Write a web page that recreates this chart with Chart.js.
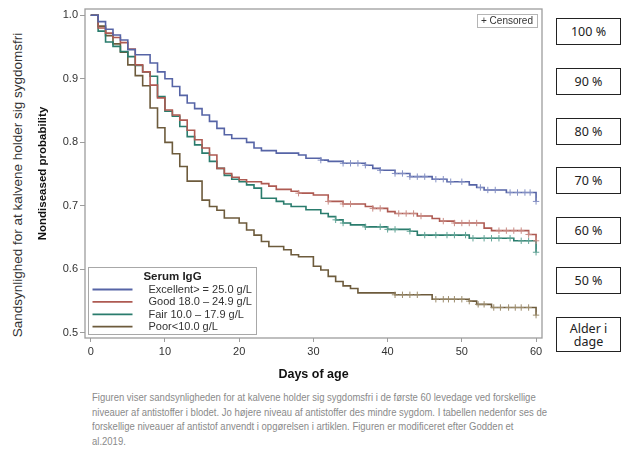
<!DOCTYPE html>
<html lang="da">
<head>
<meta charset="utf-8">
<script src="https://cdn.jsdelivr.net/npm/chart.js@4.4.1/dist/chart.umd.min.js"></script>
<style>
  html, body { margin: 0; padding: 0; background: #fff; }
  body { width: 643px; height: 460px; position: relative; overflow: hidden; font-family: 'Liberation Sans', Arial, sans-serif; }
  #wrap { position: absolute; left: 30px; top: 0; width: 520px; height: 390px; }
  #outer-title { position: absolute; left: 17px; top: 185px; transform: translate(-50%, -50%) rotate(-90deg);
    white-space: nowrap; font-size: 13.5px; color: #333; }
  .box { position: absolute; left: 556px; width: 65px; height: 27px; border: 1.3px solid #222; box-sizing: border-box;
    display: flex; align-items: center; justify-content: center; text-align: center;
    font-family: 'Noto Sans', sans-serif; font-size: 12.5px; line-height: 13px; color: #222; }
  #caption { position: absolute; left: 92px; top: 390px; font-family: 'Liberation Sans', sans-serif;
    font-size: 10.5px; line-height: 14.5px; color: #8a8a8a; white-space: nowrap;
    transform: scaleX(0.905); transform-origin: 0 0; }
</style>
</head>
<body>
<div id="outer-title">Sandsynlighed for at kalvene holder sig sygdomsfri</div>
<div id="wrap"><canvas id="km-chart"></canvas></div>
<div id="boxes"></div>
<div id="caption">Figuren viser sandsynligheden for at kalvene holder sig sygdomsfri i de første 60 levedage ved forskellige<br>niveauer af antistoffer i blodet. Jo højere niveau af antistoffer des mindre sygdom. I tabellen nedenfor ses de<br>forskellige niveauer af antistof anvendt i opgørelsen i artiklen. Figuren er modificeret efter Godden et<br>al.2019.</div>
<script>
// legend labels (Serum IgG groups)
const groupLabels = ['Excellent> = 25.0 g/L', 'Good 18.0 \u2013 24.9 g/L', 'Fair 10.0 \u2013 17.9 g/L', 'Poor<10.0 g/L'];

// Kaplan-Meier steps: event day -> survival after that day
const excellentDays = [0, 1, 2, 3, 4, 5, 6, 8, 9, 10, 11, 12, 13, 14, 15, 16, 17, 18, 19, 21, 22, 23, 25, 28, 29, 31, 32, 34, 37, 38, 39, 41, 43, 46, 48, 51, 52, 53, 56, 60];
const excellentSurv = [1.000, 0.990, 0.978, 0.969, 0.961, 0.946, 0.938, 0.925, 0.911, 0.900, 0.888, 0.874, 0.862, 0.853, 0.843, 0.833, 0.822, 0.812, 0.806, 0.800, 0.791, 0.787, 0.783, 0.780, 0.775, 0.772, 0.770, 0.767, 0.764, 0.759, 0.756, 0.751, 0.746, 0.742, 0.738, 0.733, 0.729, 0.725, 0.721, 0.707];

const goodDays = [0, 1, 2, 3, 4, 5, 6, 7, 8, 9, 10, 11, 12, 13, 14, 15, 16, 17, 18, 19, 20, 21, 23, 24, 25, 27, 28, 30, 32, 34, 37, 38, 40, 41, 44, 46, 47, 49, 53, 54, 59, 60];
const goodSurv = [1.000, 0.980, 0.972, 0.965, 0.957, 0.947, 0.922, 0.911, 0.890, 0.870, 0.851, 0.843, 0.835, 0.819, 0.804, 0.791, 0.780, 0.759, 0.751, 0.745, 0.741, 0.738, 0.735, 0.731, 0.726, 0.723, 0.720, 0.717, 0.707, 0.703, 0.699, 0.696, 0.691, 0.688, 0.684, 0.680, 0.676, 0.673, 0.665, 0.661, 0.655, 0.645];

const fairDays = [0, 1, 2, 3, 4, 5, 6, 7, 8, 9, 10, 11, 12, 13, 14, 15, 16, 17, 18, 19, 20, 21, 22, 23, 25, 26, 27, 29, 31, 32, 33, 34, 35, 37, 40, 43, 44, 51, 57, 60];
const fairSurv = [1.000, 0.975, 0.958, 0.951, 0.943, 0.935, 0.921, 0.911, 0.904, 0.872, 0.849, 0.841, 0.825, 0.809, 0.796, 0.783, 0.770, 0.759, 0.748, 0.742, 0.738, 0.733, 0.728, 0.712, 0.707, 0.703, 0.699, 0.694, 0.688, 0.683, 0.678, 0.673, 0.670, 0.667, 0.663, 0.660, 0.654, 0.649, 0.645, 0.627];

const poorDays = [0, 1, 2, 3, 4, 5, 6, 7, 8, 9, 10, 11, 12, 13, 15, 16, 17, 18, 20, 21, 22, 23, 24, 26, 27, 28, 30, 31, 32, 33, 34, 35, 36, 41, 46, 51, 52, 54, 60];
const poorSurv = [1.000, 0.983, 0.968, 0.955, 0.942, 0.922, 0.905, 0.889, 0.854, 0.823, 0.800, 0.782, 0.762, 0.739, 0.709, 0.699, 0.693, 0.681, 0.673, 0.662, 0.654, 0.644, 0.636, 0.631, 0.623, 0.620, 0.605, 0.599, 0.589, 0.581, 0.574, 0.570, 0.563, 0.560, 0.553, 0.550, 0.545, 0.540, 0.528];

// censored observations (days)
const excellentCensor = [31, 34, 35, 36, 37, 39, 41, 42, 43, 44, 45, 46.5, 47.5, 48.5, 50, 52.5, 53.5, 54.5, 56.5, 57.5, 58.5, 59.2, 60];
const goodCensor = [28, 32, 34, 35, 38, 39, 41.5, 42.5, 43.5, 44.5, 47.5, 49, 50, 51, 52, 55, 56, 57, 58, 59, 60];
const fairCensor = [33, 34, 37, 39, 40, 41, 43, 45, 46.5, 48, 49, 50.5, 51.5, 53, 54, 55, 56.5, 58, 59, 60];
const poorCensor = [41, 42, 43, 44, 46.5, 47.5, 48.2, 49, 50, 51, 52.2, 53, 54.3, 55.2, 56.3, 57.2, 58, 59, 60];

const xTicks = [0, 10, 20, 30, 40, 50, 60];
const yTicks = [0.5, 0.6, 0.7, 0.8, 0.9, 1.0];
const boxLabels = ['100 %', '90 %', '80 %', '70 %', '60 %', '50 %'];
const lastBoxLabel = 'Alder i<br>dage';

const lineColors = ['#5664a6', '#ae5a52', '#2a7c6d', '#6d5b3c'];
const censorColors = ['#8591c4', '#c98c85', '#62a597', '#9c8c6c'];

// side boxes
const boxesEl = document.getElementById('boxes');
boxLabels.forEach(function (lab, i) {
    let d = document.createElement('div');
    d.className = 'box';
    d.style.top = (18 + i * 49.8) + 'px';
    d.textContent = lab;
    boxesEl.appendChild(d);
});
let lastBox = document.createElement('div');
lastBox.className = 'box';
lastBox.style.top = '317px';
lastBox.style.height = '35px';
lastBox.innerHTML = lastBoxLabel;
boxesEl.appendChild(lastBox);

function toPoints(days, surv) {
    return days.map(function (d, i) { return { x: d, y: surv[i] }; });
}

// survival value in effect at day d
function survAt(days, surv, d) {
    let v = surv[0];
    for (let i = 0; i < days.length; i++) {
        if (days[i] <= d) v = surv[i];
    }
    return v;
}

const series = [
    [excellentDays, excellentSurv, excellentCensor],
    [goodDays, goodSurv, goodCensor],
    [fairDays, fairSurv, fairCensor],
    [poorDays, poorSurv, poorCensor]
];

let datasets = [];
series.forEach(function (s, i) {
    datasets.push({
        type: 'line',
        label: groupLabels[i],
        data: toPoints(s[0], s[1]),
        stepped: true,
        borderColor: lineColors[i],
        borderWidth: 1.6,
        pointRadius: 0,
        fill: false,
        order: 2
    });
});
series.forEach(function (s, i) {
    datasets.push({
        type: 'scatter',
        label: 'Censored',
        censor: true,
        data: s[2].map(function (d) { return { x: d, y: survAt(s[0], s[1], d) }; }),
        pointStyle: 'cross',
        pointRadius: 3.2,
        borderWidth: 1,
        borderColor: censorColors[i],
        backgroundColor: censorColors[i],
        order: 1
    });
});

const framePlugin = {
    id: 'frame',
    afterDraw(chart) {
        const ctx = chart.ctx;
        const a = chart.chartArea;
        ctx.save();
        ctx.strokeStyle = '#9d9d9d';
        ctx.lineWidth = 1.3;
        ctx.strokeRect(a.left, a.top, a.right - a.left, a.bottom - a.top);

        // "+ Censored" key
        ctx.strokeStyle = '#b5b5b5';
        ctx.lineWidth = 1;
        ctx.strokeRect(a.right - 64.5, a.top + 5.5, 60, 13);
        ctx.fillStyle = '#333';
        ctx.font = '10px "Liberation Sans", Arial, sans-serif';
        ctx.textBaseline = 'middle';
        ctx.fillText('+ Censored', a.right - 61, a.top + 12.5);

        // Serum IgG legend
        const bx = a.left + 3.5, by = a.bottom - 70.5, bw = 168, bh = 67;
        ctx.fillStyle = '#fff';
        ctx.fillRect(bx, by, bw, bh);
        ctx.strokeStyle = '#a8a8a8';
        ctx.strokeRect(bx, by, bw, bh);
        ctx.fillStyle = '#222';
        ctx.font = 'bold 11.5px "Liberation Sans", Arial, sans-serif';
        ctx.textAlign = 'center';
        ctx.fillText('Serum IgG', bx + 84, by + 9.5);
        ctx.textAlign = 'left';
        ctx.font = '11px "Liberation Sans", Arial, sans-serif';
        chart.data.datasets.filter(function (ds) { return !ds.censor; }).forEach(function (ds, i) {
            const yy = by + 22 + i * 12.4;
            ctx.strokeStyle = ds.borderColor;
            ctx.lineWidth = 1.8;
            ctx.beginPath();
            ctx.moveTo(bx + 4, yy);
            ctx.lineTo(bx + 44, yy);
            ctx.stroke();
            ctx.fillStyle = '#333';
            ctx.fillText(ds.label, bx + 60, yy + 0.5);
        });
        ctx.restore();
    }
};

const ctx = document.getElementById('km-chart');
const kmChart = new Chart(ctx, {
    data: { datasets: datasets },
    options: {
        responsive: true,
        maintainAspectRatio: false,
        animation: false,
        layout: { padding: { top: 9, right: 8, left: 0, bottom: 0 } },
        plugins: { legend: { display: false }, tooltip: { enabled: false } },
        scales: {
            x: {
                type: 'linear',
                min: -0.77,
                max: 60.8,
                afterFit: function (s) { s.height = 52; },
                afterBuildTicks: function (s) { s.ticks = xTicks.map(function (v) { return { value: v }; }); },
                grid: { drawOnChartArea: false, tickLength: 4, color: '#9d9d9d' },
                border: { display: false },
                ticks: { padding: 3, color: '#333', font: { family: 'Liberation Sans', size: 11 } },
                title: { display: true, text: 'Days of age', color: '#111',
                    font: { family: 'Liberation Sans', size: 12.5, weight: 'bold' }, padding: { top: 0, bottom: 7.5 } }
            },
            y: {
                type: 'linear',
                min: 0.492,
                max: 1.0099,
                afterFit: function (s) { s.width = 55; },
                afterBuildTicks: function (s) { s.ticks = yTicks.map(function (v) { return { value: v }; }); },
                grid: { drawOnChartArea: false, tickLength: 5, color: '#9d9d9d' },
                border: { display: false },
                ticks: { padding: 2, color: '#333', font: { family: 'Liberation Sans', size: 11 },
                    callback: function (v) { return Number(v).toFixed(1); } },
                title: { display: true, text: 'Nondiseased probability', color: '#111',
                    font: { family: 'Liberation Sans', size: 11.5, weight: 'bold' }, padding: { top: 6, bottom: 0 } }
            }
        }
    },
    plugins: [framePlugin]
});
</script>
</body>
</html>
